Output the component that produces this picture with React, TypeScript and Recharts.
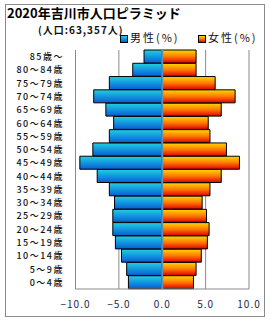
import {
  BarChart,
  Bar,
  XAxis,
  YAxis,
  CartesianGrid,
  ReferenceLine,
} from "recharts";

const ageGroups = [
  "0～4歳",
  "5～9歳",
  "10～14歳",
  "15～19歳",
  "20～24歳",
  "25～29歳",
  "30～34歳",
  "35～39歳",
  "40～44歳",
  "45～49歳",
  "50～54歳",
  "55～59歳",
  "60～64歳",
  "65～69歳",
  "70～74歳",
  "75～79歳",
  "80～84歳",
  "85歳～",
];

// percentages, same order as ageGroups (youngest first)
const malePct = [3.9, 4.1, 4.7, 5.4, 5.7, 5.7, 5.5, 6.1, 7.5, 9.5, 8.0, 6.1, 5.6, 6.5, 7.9, 6.1, 3.4, 2.1];
const femalePct = [3.6, 3.9, 4.5, 5.2, 5.4, 5.1, 4.6, 5.5, 6.8, 8.9, 7.4, 5.5, 5.3, 6.8, 8.4, 6.1, 3.9, 3.9];

const xTicks = [-10, -5, 0, 5, 10];
const xTickLabels = ["−10.0", "−5.0", "0.0", "5.0", "10.0"];

const title = "2020年吉川市人口ピラミッド";
const subtitle = "(人口:63,357人)";
const maleName = "男性(%)";
const femaleName = "女性(%)";

const font = "'Noto Sans CJK JP', 'DejaVu Sans', sans-serif";

const chartData = ageGroups.map((age, i) => ({
  age,
  male: -malePct[i],
  female: femalePct[i],
}));

const AgeTick = (props: any) => {
  const { y, payload } = props;
  return (
    <text
      x={64}
      y={y}
      dy={3.5}
      textAnchor="end"
      fontSize={9}
      fontWeight={500}
      fontFamily={font}
      letterSpacing={1.5}
      fill="#111"
    >
      {payload.value}
    </text>
  );
};

const PctTick = (props: any) => {
  const { x, y, payload } = props;
  const idx = xTicks.indexOf(payload.value);
  return (
    <text
      x={x}
      y={y}
      dy={11}
      textAnchor="middle"
      fontSize={10}
      fontFamily={font}
      letterSpacing={1}
      fill="#1a2850"
    >
      {idx >= 0 ? xTickLabels[idx] : payload.value}
    </text>
  );
};

const Swatch = ({ grad }: { grad: string }) => (
  <span
    style={{
      display: "inline-block",
      width: 6,
      height: 6,
      border: "1px solid #000",
      background: grad,
      marginRight: 2,
      verticalAlign: "middle",
    }}
  />
);

const maleCss = "linear-gradient(#22d0dc, #1296e0, #0a5cd0)";
const femaleCss = "linear-gradient(#ffd800, #ff7a00, #e00000)";

export default function App() {
  return (
    <div
      style={{
        position: "absolute",
        left: 0,
        top: 0,
        width: 270,
        height: 320,
        background: "#fff",
        fontFamily: font,
      }}
    >
      <div
        style={{
          position: "absolute",
          left: 5,
          top: 4,
          width: 258,
          height: 311,
          border: "1px solid #8a8a8a",
        }}
      />
      <div
        style={{
          position: "absolute",
          left: 7,
          top: 6,
          fontSize: 13,
          fontWeight: "bold",
          color: "#000",
          whiteSpace: "nowrap",
          lineHeight: "13px",
        }}
      >
        {title}
      </div>
      <div
        style={{
          position: "absolute",
          left: 38,
          top: 25,
          fontSize: 10,
          fontWeight: "bold",
          letterSpacing: 1,
          color: "#111",
          whiteSpace: "nowrap",
          lineHeight: "10px",
        }}
      >
        {subtitle}
      </div>
      <div
        style={{
          position: "absolute",
          left: 120,
          top: 32,
          fontSize: 11,
          letterSpacing: 2,
          color: "#111",
          whiteSpace: "nowrap",
          lineHeight: "11px",
        }}
      >
        <Swatch grad={maleCss} />
        {maleName}
      </div>
      <div
        style={{
          position: "absolute",
          left: 198,
          top: 32,
          fontSize: 11,
          letterSpacing: 2,
          color: "#111",
          whiteSpace: "nowrap",
          lineHeight: "11px",
        }}
      >
        <Swatch grad={femaleCss} />
        {femaleName}
      </div>
      <div style={{ position: "absolute", left: 0, top: 0 }}>
        <BarChart
          width={270}
          height={320}
          data={chartData}
          layout="vertical"
          stackOffset="sign"
          barCategoryGap={0}
          margin={{ top: 50, right: 21, bottom: 11, left: 5.5 }}
        >
          <defs>
            <linearGradient id="maleGrad" x1="0" y1="0" x2="0" y2="1">
              <stop offset="0%" stopColor="#22d0dc" />
              <stop offset="50%" stopColor="#1296e0" />
              <stop offset="100%" stopColor="#0a5cd0" />
            </linearGradient>
            <linearGradient id="femaleGrad" x1="0" y1="0" x2="0" y2="1">
              <stop offset="0%" stopColor="#ffd800" />
              <stop offset="50%" stopColor="#ff7a00" />
              <stop offset="100%" stopColor="#e00000" />
            </linearGradient>
          </defs>
          <CartesianGrid horizontal={false} vertical={true} stroke="#8a8a8a" />
          <XAxis
            type="number"
            domain={[-10, 10]}
            ticks={xTicks}
            tick={<PctTick />}
            tickLine={false}
            axisLine={{ stroke: "#8a8a8a" }}
            height={20}
            interval={0}
          />
          <YAxis
            type="category"
            dataKey="age"
            reversed
            width={70}
            tick={<AgeTick />}
            tickLine={false}
            axisLine={{ stroke: "#8a8a8a" }}
            interval={0}
          />
          <Bar
            dataKey="male"
            stackId="a"
            fill="url(#maleGrad)"
            stroke="#000"
            strokeWidth={1}
            isAnimationActive={false}
          />
          <Bar
            dataKey="female"
            stackId="a"
            fill="url(#femaleGrad)"
            stroke="#000"
            strokeWidth={1}
            isAnimationActive={false}
          />
          <ReferenceLine x={0} stroke="#6a8cab" strokeWidth={2} />
        </BarChart>
      </div>
    </div>
  );
}
